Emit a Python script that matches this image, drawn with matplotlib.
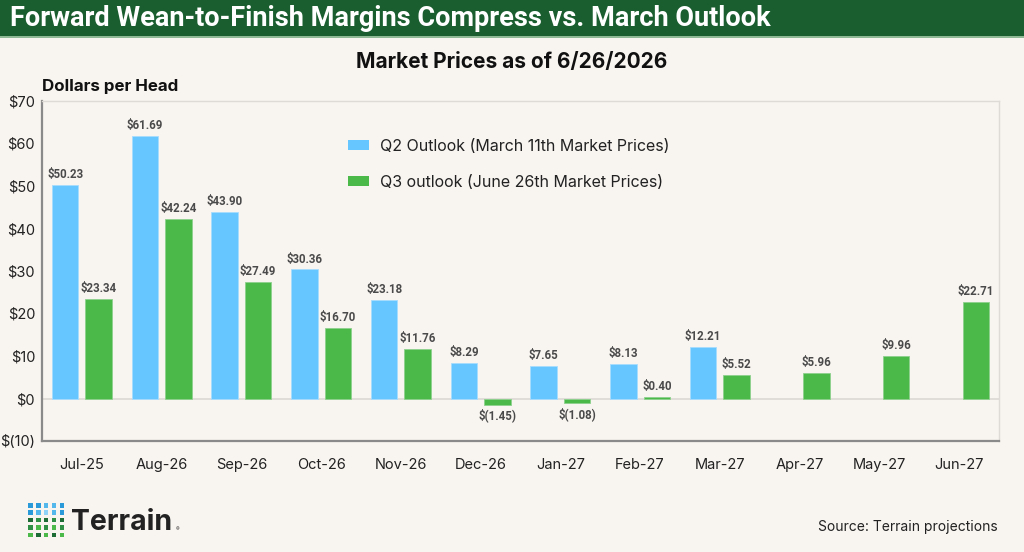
import matplotlib
matplotlib.use("Agg")
import matplotlib.pyplot as plt
import numpy as np
from matplotlib.patches import Rectangle, Patch

categories = ["Jul-25", "Aug-26", "Sep-26", "Oct-26", "Nov-26", "Dec-26",
              "Jan-27", "Feb-27", "Mar-27", "Apr-27", "May-27", "Jun-27"]
q2_values = [50.23, 61.69, 43.90, 30.36, 23.18, 8.29, 7.65, 8.13, 12.21, None, None, None]
q3_values = [23.34, 42.24, 27.49, 16.70, 11.76, -1.45, -1.08, 0.40, 5.52, 5.96, 9.96, 22.71]
y_ticks = [-10, 0, 10, 20, 30, 40, 50, 60, 70]
y_ticklabels = ["$(10)", "$0", "$10", "$20", "$30", "$40", "$50", "$60", "$70"]

title = "Forward Wean-to-Finish Margins Compress vs. March Outlook"
subtitle = "Market Prices as of 6/26/2026"
legend_labels = ["Q2 Outlook (March 11th Market Prices)", "Q3 outlook (June 26th Market Prices)"]

BG = "#f8f4f0"
BLUE = "#66c6ff"
GREEN = "#4bb84a"
HEADER = "#1a5e2f"
LABEL = "#4a4a4a"

plt.rcParams['font.family'] = ['Inter', 'DejaVu Sans']
VAL_FONT = ['Roboto', 'DejaVu Sans']

W, H = 1024, 552
fig = plt.figure(figsize=(W / 100, H / 100), dpi=100, facecolor=BG)

def fx(px):
    return px / W

def fy(py):
    return 1 - py / H

# header band
fig.patches.append(Rectangle((0, fy(36)), 1, 36 / H, transform=fig.transFigure,
                             facecolor=HEADER, edgecolor="none", zorder=0))
fig.patches.append(Rectangle((0, fy(38)), 1, 2 / H, transform=fig.transFigure,
                             facecolor="#8fb894", edgecolor="none", zorder=0))
fig.text(fx(10), fy(18), title, color="white", fontsize=19.5, fontweight="bold",
         va="center", ha="left", family=['Roboto', 'DejaVu Sans'])
fig.text(0.5, fy(62), subtitle, color="#111111", fontsize=15, fontweight="bold",
         va="center", ha="center")

ax = fig.add_axes([fx(42), fy(441), fx(999 - 42), (441 - 101) / H])
ax.set_facecolor(BG)

x = np.arange(len(categories))
width = 0.33
off = 0.21

for i, v in enumerate(q2_values):
    if v is None:
        continue
    ax.bar(x[i] - off, v, width, color=BLUE, edgecolor="#a8dcff", linewidth=0.6, zorder=2)
    ax.text(x[i] - off, v + 0.9, f"${v:.2f}", ha="center", va="bottom",
            fontsize=8.3, fontweight="bold", color=LABEL, family=VAL_FONT)

for i, v in enumerate(q3_values):
    ax.bar(x[i] + off, v, width, color=GREEN, edgecolor="#8fd18d", linewidth=0.6, zorder=2)
    if v >= 0:
        ax.text(x[i] + off, v + 0.9, f"${v:.2f}", ha="center", va="bottom",
                fontsize=8.3, fontweight="bold", color=LABEL, family=VAL_FONT)
    else:
        ax.text(x[i] + off, v - 0.9, f"$({abs(v):.2f})", ha="center", va="top",
                fontsize=8.3, fontweight="bold", color=LABEL, family=VAL_FONT)

ax.axhline(0, color="#dcd8d4", linewidth=1.2, zorder=1)
ax.set_xlim(-0.5, len(categories) - 0.5)
ax.set_ylim(-10, 70)
ax.set_yticks(y_ticks)
ax.set_yticklabels(y_ticklabels)
ax.set_xticks(x)
ax.set_xticklabels(categories)
ax.tick_params(axis="both", length=0, labelsize=10.5, colors="#222222")
ax.tick_params(axis="x", pad=12)
ax.tick_params(axis="y", pad=5)
for side in ["top", "right"]:
    ax.spines[side].set_color("#dedad6")
    ax.spines[side].set_linewidth(1.0)
for side in ["left", "bottom"]:
    ax.spines[side].set_color("#8a8a8a")
    ax.spines[side].set_linewidth(1.6)

fig.text(fx(42), fy(86), "Dollars per Head", fontsize=12.2, fontweight="bold",
         color="#111111", ha="left", va="center")

handles = [Patch(facecolor=BLUE, edgecolor="none"), Patch(facecolor=GREEN, edgecolor="none")]
leg = ax.legend(handles, legend_labels, loc="upper left",
                bbox_to_anchor=((340 - 42) / (999 - 42), 1 - (131 - 101) / 340),
                frameon=False, fontsize=11.5, handlelength=1.3, handleheight=0.6,
                handletextpad=0.7, labelspacing=1.3, borderpad=0, labelcolor="#222222")

# logo dots
dot_colors = [
    ["#2a9ad8", "#2a9ad8", "#55b8ec", "#55b8ec", "#2a9ad8"],
    ["#2a9ad8", "#55b8ec", "#8fd3f8", "#55b8ec", "#2a9ad8"],
    ["#1d6b35", "#2f8f45", "#1d6b35", "#2f8f45", "#1d6b35"],
    ["#2f8f45", "#4bb84a", "#2f8f45", "#4bb84a", "#2f8f45"],
    ["#4bb84a", "#1d6b35", "#4bb84a", "#1d6b35", "#4bb84a"],
]
for r in range(5):
    for c in range(5):
        px = 28 + c * 7.9
        py = 503 + r * 7.4
        fig.patches.append(Rectangle((fx(px), fy(py + 4.6)), 4.6 / W, 4.6 / H,
                                     transform=fig.transFigure,
                                     facecolor=dot_colors[r][c], edgecolor="none"))
fig.text(fx(71), fy(522), "Terrain", fontsize=20.5, fontweight="bold",
         color="#222222", ha="left", va="center")
fig.text(fx(176), fy(530), "®", fontsize=4, color="#222222", ha="left", va="center")

fig.text(fx(998), fy(527), "Source: Terrain projections", fontsize=10,
         color="#222222", ha="right", va="center")

fig.savefig("out.png", dpi=100, facecolor=BG)
